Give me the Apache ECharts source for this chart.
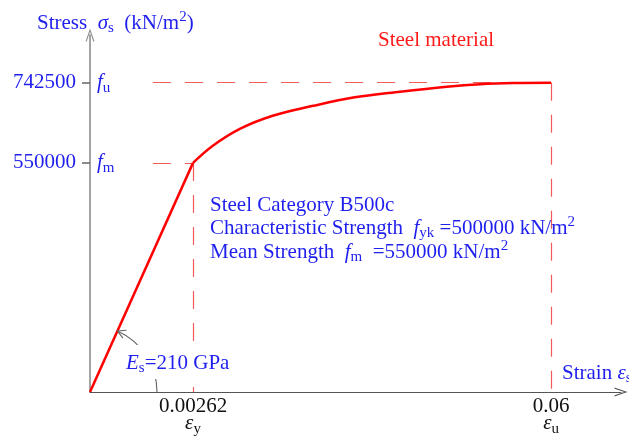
<!DOCTYPE html>
<html><head><meta charset="utf-8">
<script src="https://cdn.jsdelivr.net/npm/echarts@6/dist/echarts.min.js"></script>
<style>html,body{margin:0;padding:0;background:#fff}#c{width:629px;height:437px}</style>
</head><body><div id="c"></div>
<script>
// ---- data ----
const yieldStrain = 0.00262;
const ultimateStrain = 0.06;
const meanStrength = 550000;
const ultimateStrength = 742500;
const elasticStrain = [0, 0.00262];
const elasticStress = [0, 550000];
const plasticStrain = [0.00262, 0.0058, 0.0102, 0.0154, 0.0219, 0.0283, 0.0358, 0.0433, 0.0486, 0.054, 0.06];
const plasticStress = [550000, 591000, 632000, 663000, 687000, 707000, 721000, 733000, 739000, 741800, 742500];
const yTickValues = [550000, 742500];
const yTickSymbols = ['m', 'u'];
const xTickValues = [0.00262, 0.06];
const xTickSymbols = ['y', 'u'];
const leaderStart = 0.0016;

const BLUE = '#1f1fee';
const RED = '#ff0000';
const DASH = '#f25a5a';
const FONT = '"Liberation Serif", "Times New Roman", serif';
const CHEVRON = 'path://M0,13 L4.5,0 L9,13 L7.8,13 L4.5,3.2 L1.2,13 Z';
const FS = 21;

function rich(color, size, lh) {
  return {
    n: {fontFamily: FONT, fontSize: size, color: color, lineHeight: lh},
    i: {fontFamily: FONT, fontSize: size, fontStyle: 'italic', color: color, lineHeight: lh},
    sub: {fontFamily: FONT, fontSize: 15, color: color, lineHeight: lh, padding: [11, 0, 0, 0]},
    sup: {fontFamily: FONT, fontSize: 15, color: color, lineHeight: lh, padding: [0, 0, 11, 0]}
  };
}

const chart = echarts.init(document.getElementById('c'), null, {renderer: 'canvas'});
const Y_MAX = 857000;
const X2_MAX = 0.0712;

const dashStyle = {type: [18, 14], color: DASH, width: 1.2};

chart.setOption({
  animation: false,
  backgroundColor: '#fff',
  grid: [
    {left: 90, right: 436, top: 35, bottom: 45, outerBoundsMode: 'none', containLabel: false},
    {left: 193, right: 8, top: 35, bottom: 45, outerBoundsMode: 'none', containLabel: false}
  ],
  xAxis: [
    {gridIndex: 0, type: 'value', min: 0, max: yieldStrain,
     axisLine: {show: true, lineStyle: {color: '#555', width: 1}},
     axisTick: {show: false}, axisLabel: {show: false}, splitLine: {show: false}},
    {gridIndex: 1, type: 'value', min: yieldStrain, max: X2_MAX,
     axisLine: {show: true, lineStyle: {color: '#555', width: 1}, symbol: ['none', CHEVRON], symbolSize: [9, 13]},
     axisTick: {show: false},
     axisLabel: {show: true, customValues: xTickValues, margin: 6, showMinLabel: true,
       formatter: function (v) {
         const idx = xTickValues.findIndex(t => Math.abs(t - v) < 1e-9);
         return '{n|' + String(v) + '}\n{i|ε}{sub|' + (idx >= 0 ? xTickSymbols[idx] : '') + '}';
       },
       rich: rich('#111', FS, 17)},
     splitLine: {show: false}}
  ],
  yAxis: [
    {gridIndex: 0, type: 'value', min: 0, max: Y_MAX,
     axisLine: {show: true, lineStyle: {color: '#8c8c8c', width: 1.6}, symbol: ['none', CHEVRON], symbolSize: [9, 13]},
     axisTick: {show: true, customValues: yTickValues, length: 8, lineStyle: {color: '#666', width: 1.5}},
     axisLabel: {show: true, customValues: yTickValues, margin: 14, color: BLUE, fontFamily: FONT, fontSize: FS,
       formatter: function (v) { return String(v); }},
     splitLine: {show: false}},
    {gridIndex: 1, type: 'value', min: 0, max: Y_MAX, show: false}
  ],
  series: [
    {type: 'line', xAxisIndex: 0, yAxisIndex: 0, clip: false, showSymbol: false, symbol: 'none',
     data: elasticStrain.map((x, k) => [x, elasticStress[k]]),
     lineStyle: {color: RED, width: 2.5}, z: 5,
     markLine: {silent: true, symbol: 'none', label: {show: false}, lineStyle: dashStyle, animation: false,
       data: [
         [{coord: [leaderStart, ultimateStrength]}, {coord: [yieldStrain, ultimateStrength]}],
         [{coord: [leaderStart, meanStrength]}, {coord: [yieldStrain, meanStrength]}]
       ]}},
    {type: 'line', xAxisIndex: 1, yAxisIndex: 1, clip: false, showSymbol: false, symbol: 'none',
     smooth: 0.35,
     data: plasticStrain.map((x, k) => [x, plasticStress[k]]),
     lineStyle: {color: RED, width: 2.5}, z: 5,
     markLine: {silent: true, symbol: 'none', label: {show: false}, lineStyle: dashStyle, animation: false,
       data: [
         [{coord: [yieldStrain, ultimateStrength], lineStyle: {dashOffset: 8}}, {coord: [ultimateStrain, ultimateStrength]}],
         [{coord: [yieldStrain, meanStrength]}, {coord: [yieldStrain, 0]}],
         [{coord: [ultimateStrain, ultimateStrength]}, {coord: [ultimateStrain, 0]}]
       ]}}
  ]
});

function txt(x, y, text, color) {
  return {
    type: 'text', x: x, y: y, z: 100,
    style: {text: text, rich: rich(color, FS, 24), align: 'left', verticalAlign: 'middle',
            fontFamily: FONT, fontSize: FS, fill: color}
  };
}

const o = chart.convertToPixel({xAxisIndex: 0, yAxisIndex: 0}, [0, 0]);
const yp = chart.convertToPixel({xAxisIndex: 0, yAxisIndex: 0}, [yieldStrain, meanStrength]);
const theta = Math.atan2(o[1] - yp[1], yp[0] - o[0]);
const R = 67;
const tip = [o[0] + R * Math.cos(theta), o[1] - R * Math.sin(theta)];
const dir = [-Math.sin(theta), -Math.cos(theta)];
function rot(v, a) { return [v[0] * Math.cos(a) - v[1] * Math.sin(a), v[0] * Math.sin(a) + v[1] * Math.cos(a)]; }
const back = [-dir[0], -dir[1]];
const a1 = rot(back, 0.5), a2 = rot(back, -0.5);
const AL = 9;

const esLabel = txt(124, 362, '{i|E}{sub|s}{n|=210 GPa}', BLUE);
esLabel.style.backgroundColor = '#fff';
esLabel.style.padding = [6, 2, 4, 2];

const graphics = [
  {type: 'arc', z: 50, shape: {cx: o[0], cy: o[1], r: R, startAngle: -theta, endAngle: 0, clockwise: true},
   style: {stroke: '#666', fill: 'none', lineWidth: 1.1}},
  {type: 'polyline', z: 50, shape: {points: [[tip[0] + a1[0] * AL, tip[1] + a1[1] * AL], tip, [tip[0] + a2[0] * AL, tip[1] + a2[1] * AL]]},
   style: {stroke: '#666', fill: 'none', lineWidth: 1.1}},
  txt(37, 23, '{n|Stress  }{i|σ}{sub|s}{n|  (kN/m}{sup|2}{n|)}', BLUE),
  txt(378, 40, '{n|Steel material}', '#ff1a1a'),
  txt(210, 205, '{n|Steel Category B500c}', BLUE),
  txt(210, 228, '{n|Characteristic Strength  }{i|f}{sub|yk}{n| =500000 kN/m}{sup|2}', BLUE),
  txt(210, 252, '{n|Mean Strength  }{i|f}{sub|m}{n|  =550000 kN/m}{sup|2}', BLUE),
  esLabel,
  txt(562, 373, '{n|Strain }{i|ε}{sub|s}', BLUE)
];

yTickValues.forEach(function (v, k) {
  const p = chart.convertToPixel({xAxisIndex: 0, yAxisIndex: 0}, [0, v]);
  graphics.push(txt(p[0] + 7, p[1], '{i|f}{sub|' + yTickSymbols[k] + '}', BLUE));
});

chart.setOption({graphic: graphics});
</script>
</body></html>
